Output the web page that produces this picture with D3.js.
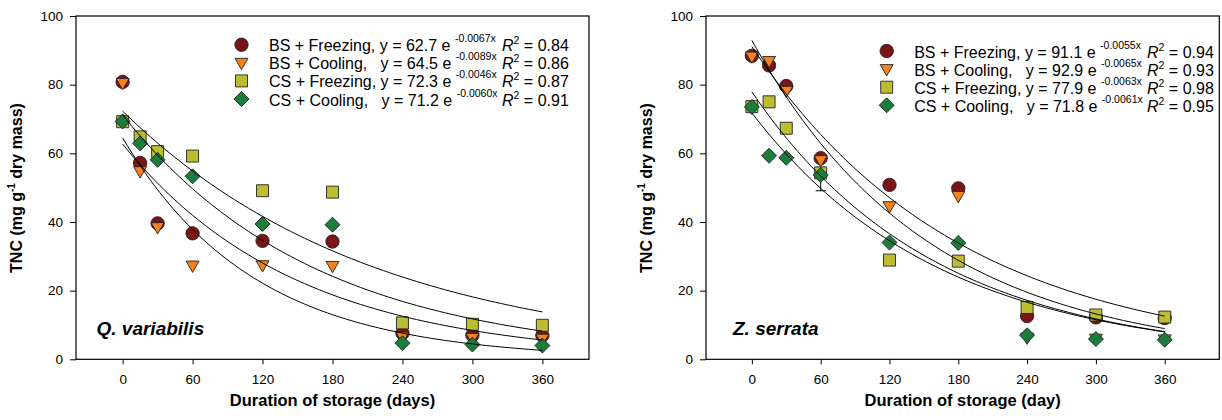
<!DOCTYPE html>
<html>
<head>
<meta charset="utf-8">
<script src="https://cdn.jsdelivr.net/npm/d3@7"></script>
<style>
  body { margin: 0; background: #fff; }
  svg text { font-family: "Liberation Sans", Arial, sans-serif; white-space: pre; }
</style>
</head>
<body>
<svg width="1222" height="420"></svg>
<script>
// storage days (same for both species)
var days = [0, 15, 30, 60, 120, 180, 240, 300, 360];
var xTicks = [0, 60, 120, 180, 240, 300, 360];
var yTicks = [0, 20, 40, 60, 80, 100];
var seriesNames = ['BS + Freezing,', 'BS + Cooling,  ', 'CS + Freezing,', 'CS + Cooling,  '];

// Q. variabilis, TNC values
var qvBSFreezing = [80.8, 57.2, 39.6, 36.7, 34.5, 34.3, 7.6, 7.0, 6.9];
var qvBSCooling  = [80.5, 54.8, 38.5, 27.3, 27.4, 27.2, 6.6, 6.2, 6.0];
var qvCSFreezing = [69.2, 64.8, 60.5, 59.2, 49.1, 48.7, 10.6, 10.2, 9.9];
var qvCSCooling  = [69.3, 62.9, 58.1, 53.3, 39.4, 39.2, 4.7, 4.3, 4.0];
var qvFitA = [62.7, 64.5, 72.3, 71.2];
var qvFitB = ['-0.0067', '-0.0089', '-0.0046', '-0.0060'];
var qvR2 = ['0.84', '0.86', '0.87', '0.91'];

// Z. serrata
var zsBSFreezing = [88.4, 85.6, 79.6, 58.6, 50.8, 49.8, 12.6, 12.2, 12.0];
var zsBSCooling  = [88.2, 86.9, 78.2, 58.0, 44.6, 47.6, 6.3, 6.0, 5.8];
var zsCSFreezing = [73.6, 75.0, 67.3, 54.3, 28.9, 28.6, 15.1, 12.9, 12.3];
var zsCSCooling  = [73.5, 59.3, 58.7, 53.7, 34.0, 33.9, 7.0, 5.9, 5.7];
var zsCoolErr    = [0, 0, 0, 4.6, 0, 0, 0, 0, 0];
var zsFitA = [91.1, 92.9, 77.9, 71.8];
var zsFitB = ['-0.0055', '-0.0065', '-0.0063', '-0.0061'];
var zsR2 = ['0.94', '0.93', '0.98', '0.95'];

var colors = ['#7b1416', '#f5821f', '#bdbd30', '#1a7d3b'];
var shapes = ['circle', 'tri', 'square', 'diamond'];

var svg = d3.select('svg');

function markerPath(s) {
    if (s == 'circle') return d3.symbol(d3.symbolCircle, 140)();
    if (s == 'tri') return 'M-6.5,-4.5L6.5,-4.5L0,6.8Z';
    if (s == 'square') return 'M-6,-6L6,-6L6,6L-6,6Z';
    return 'M0,-7.5L7.5,0L0,7.5L-7.5,0Z';
}

function drawPanel(p) {
    var x = d3.scaleLinear().domain(p.xDomain).range([p.left, p.right]);
    var y = d3.scaleLinear().domain([0, 100]).range([359.3, 16]);
    var g = svg.append('g');

    g.append('g')
        .attr('transform', 'translate(0,359.3)')
        .call(d3.axisBottom(x).tickValues(xTicks).tickSize(5).tickSizeOuter(0).tickPadding(10))
        .call(a => a.select('.domain').remove())
        .selectAll('text').style('font-size', '13.5px').style('fill', '#000');

    g.append('g')
        .attr('transform', 'translate(' + p.left + ',0)')
        .call(d3.axisLeft(y).tickValues(yTicks).tickSize(6).tickSizeOuter(0).tickPadding(7))
        .call(a => a.select('.domain').remove())
        .selectAll('text').style('font-size', '13.5px').style('fill', '#000');

    g.append('rect')
        .attr('x', p.left).attr('y', 16)
        .attr('width', p.right - p.left).attr('height', 343.3)
        .style('fill', 'none').style('stroke', '#000').style('stroke-width', 1.2);

    // error bar
    p.series.forEach(function(vals, si) {
        if (!p.err[si]) return;
        vals.forEach(function(v, i) {
            var e = p.err[si][i];
            if (!e) return;
            var cx = x(days[i]);
            g.append('line').attr('x1', cx).attr('x2', cx).attr('y1', y(v - e)).attr('y2', y(v + e)).attr('stroke', '#000');
            g.append('line').attr('x1', cx - 5).attr('x2', cx + 5).attr('y1', y(v - e)).attr('y2', y(v - e)).attr('stroke', '#000');
            g.append('line').attr('x1', cx - 5).attr('x2', cx + 5).attr('y1', y(v + e)).attr('y2', y(v + e)).attr('stroke', '#000');
        });
    });

    // points
    p.series.forEach(function(vals, si) {
        g.selectAll('.pt' + si)
            .data(vals)
            .enter()
            .append('path')
            .attr('d', markerPath(shapes[si]))
            .attr('transform', (d, i) => 'translate(' + x(days[i]) + ',' + y(d) + ')')
            .style('fill', colors[si])
            .style('stroke', '#222')
            .style('stroke-width', 0.9);
    });

    // fitted curves from the legend equations
    var line = d3.line().x(d => x(d[0])).y(d => y(d[1]));
    p.fitA.forEach(function(a, k) {
        var pts = d3.range(0, 361, 4).map(t => [t, a * Math.exp(+p.fitB[k] * t)]);
        g.append('path').attr('d', line(pts))
            .style('fill', 'none').style('stroke', '#000').style('stroke-width', 1);
    });

    // legend
    var lg = g.selectAll('.leg').data(seriesNames).enter().append('g')
        .attr('transform', (d, i) => 'translate(0,' + (p.legY + i * 18.1) + ')');
    lg.append('path')
        .attr('d', (d, i) => markerPath(shapes[i]))
        .attr('transform', 'translate(' + p.legX + ',0)')
        .style('fill', (d, i) => colors[i])
        .style('stroke', '#222').style('stroke-width', 0.9);
    var t = lg.append('text')
        .attr('x', p.legX + 27.5).attr('y', 6.5)
        .attr('xml:space', 'preserve')
        .style('font-size', '16px');
    t.append('tspan').text((d, i) => d + ' y = ' + p.fitA[i] + ' e ');
    t.append('tspan').attr('dy', -9).style('font-size', '10.5px').text((d, i) => p.fitB[i] + 'x');
    t.append('tspan').attr('x', p.r2X).attr('dy', 9).style('font-style', 'italic').text('R');
    t.append('tspan').attr('dy', -7).style('font-size', '10.5px').text('2');
    t.append('tspan').attr('dy', 7).text((d, i) => ' = ' + p.r2[i]);

    // species label
    g.append('text').attr('x', p.labelX).attr('y', 335)
        .style('font-size', '19px').style('font-weight', 'bold').style('font-style', 'italic')
        .text(p.label);

    // axis titles
    g.append('text').attr('x', (p.left + p.right) / 2).attr('y', 406)
        .attr('text-anchor', 'middle')
        .style('font-size', '16.5px').style('font-weight', 'bold')
        .text(p.xTitle);

    var yt = g.append('text')
        .attr('transform', 'translate(' + p.yTitleX + ',188) rotate(-90)')
        .attr('text-anchor', 'middle')
        .style('font-size', '16px').style('font-weight', 'bold');
    yt.append('tspan').text('TNC (mg g');
    yt.append('tspan').attr('dy', -7).style('font-size', '10px').text('-1');
    yt.append('tspan').attr('dy', 7).text(' dry mass)');
}

drawPanel({
    left: 76, right: 589, xDomain: [-40, 400],
    series: [qvBSFreezing, qvBSCooling, qvCSFreezing, qvCSCooling],
    err: [null, null, null, null],
    fitA: qvFitA, fitB: qvFitB, r2: qvR2,
    legX: 241.5, legY: 44.7, r2X: 502,
    label: 'Q. variabilis', labelX: 96.5, xTitle: 'Duration of storage (days)', yTitleX: 22
});

drawPanel({
    left: 706, right: 1219.3, xDomain: [-40, 407.6],
    series: [zsBSFreezing, zsBSCooling, zsCSFreezing, zsCSCooling],
    err: [null, null, null, zsCoolErr],
    fitA: zsFitA, fitB: zsFitB, r2: zsR2,
    legX: 886.7, legY: 51, r2X: 1147,
    label: 'Z. serrata', labelX: 733, xTitle: 'Duration of storage (day)', yTitleX: 652
});
</script>
</body>
</html>
